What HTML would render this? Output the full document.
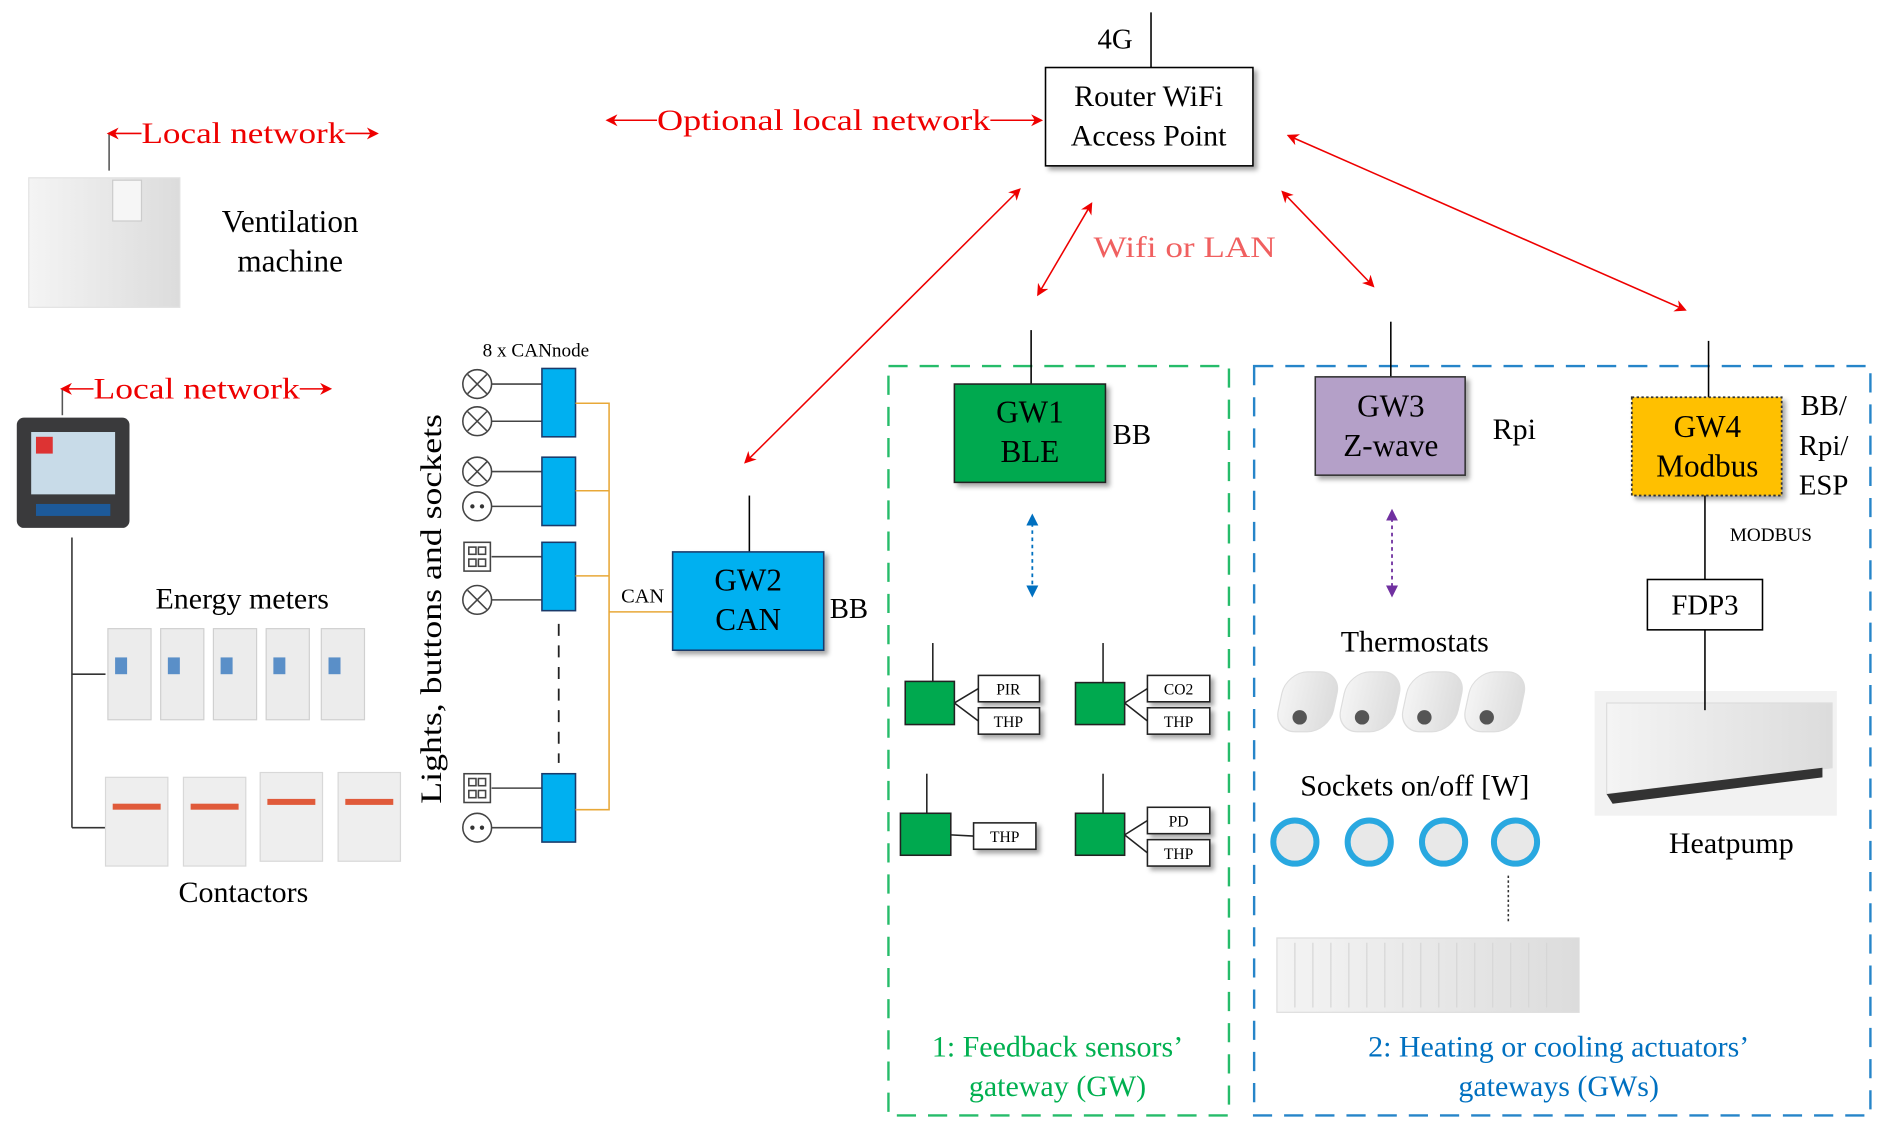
<!DOCTYPE html>
<html><head><meta charset="utf-8"><style>
html,body{margin:0;padding:0;background:#fff;}
svg{display:block;}
text{font-family:"Liberation Serif",serif;}
</style></head><body>
<svg width="1880" height="1123" viewBox="0 0 1568 936" xmlns="http://www.w3.org/2000/svg">
<defs>
<marker id="ar" markerWidth="10" markerHeight="10" refX="8" refY="5" orient="auto-start-reverse" markerUnits="userSpaceOnUse"><path d="M0,0 L10,5 L0,10 L3,5z" fill="#e00"/></marker>
<marker id="ab" markerWidth="10" markerHeight="10" refX="8" refY="5" orient="auto-start-reverse" markerUnits="userSpaceOnUse"><path d="M0,0 L10,5 L0,10z" fill="#0070c0"/></marker>
<marker id="ap" markerWidth="10" markerHeight="10" refX="8" refY="5" orient="auto-start-reverse" markerUnits="userSpaceOnUse"><path d="M0,0 L10,5 L0,10z" fill="#7030a0"/></marker>
<linearGradient id="wg" x1="0" x2="1"><stop offset="0" stop-color="#f4f4f4"/><stop offset="1" stop-color="#dcdcdc"/></linearGradient>
<filter id="sh"><feDropShadow dx="3" dy="3" stdDeviation="2" flood-opacity="0.35"/></filter>
</defs>

<!-- router -->
<line x1="960" y1="10" x2="960" y2="56" stroke="#000" stroke-width="1.3"/>
<text x="930" y="40" font-size="24" text-anchor="middle">4G</text>
<rect x="872" y="56" width="173" height="82" fill="#fff" stroke="#000" stroke-width="1.3" filter="url(#sh)"/>
<text x="958" y="88" font-size="25" text-anchor="middle">Router WiFi</text>
<text x="958" y="121" font-size="25" text-anchor="middle">Access Point</text>

<!-- optional local network -->
<line x1="507" y1="100" x2="548" y2="100" stroke="#e00" stroke-width="1.3" marker-start="url(#ar)"/>
<line x1="826" y1="100" x2="868" y2="100" stroke="#e00" stroke-width="1.3" marker-end="url(#ar)"/>
<text x="548" y="108" font-size="25" fill="#e00" textLength="278" lengthAdjust="spacingAndGlyphs">Optional local network</text>

<!-- red wifi arrows -->
<line x1="850" y1="158" x2="622" y2="385" stroke="#e00" stroke-width="1.3" marker-start="url(#ar)" marker-end="url(#ar)"/>
<line x1="910" y1="170" x2="866" y2="245" stroke="#e00" stroke-width="1.3" marker-start="url(#ar)" marker-end="url(#ar)"/>
<line x1="1070" y1="160" x2="1145" y2="238" stroke="#e00" stroke-width="1.3" marker-start="url(#ar)" marker-end="url(#ar)"/>
<line x1="1075" y1="113" x2="1405" y2="258" stroke="#e00" stroke-width="1.3" marker-start="url(#ar)" marker-end="url(#ar)"/>
<text x="912" y="214" font-size="25" fill="#f06060" textLength="152" lengthAdjust="spacingAndGlyphs">Wifi or LAN</text>

<!-- ventilation -->
<line x1="91" y1="142" x2="91" y2="111" stroke="#555" stroke-width="1.3"/>
<line x1="91" y1="111" x2="118" y2="111" stroke="#e00" stroke-width="1.3" marker-start="url(#ar)"/>
<line x1="288" y1="111" x2="314" y2="111" stroke="#e00" stroke-width="1.3" marker-end="url(#ar)"/>
<text x="118" y="119" font-size="25" fill="#e00" textLength="170" lengthAdjust="spacingAndGlyphs">Local network</text>
<rect x="24" y="148" width="126" height="108" fill="url(#wg)" stroke="#e2e2e2"/>
<rect x="94" y="150" width="24" height="34" fill="#f6f6f6" stroke="#ccc"/>
<text x="242" y="193" font-size="26" text-anchor="middle">Ventilation</text>
<text x="242" y="226" font-size="26" text-anchor="middle">machine</text>

<!-- controller -->
<line x1="52" y1="346" x2="52" y2="324" stroke="#555" stroke-width="1.3"/>
<line x1="52" y1="324" x2="78" y2="324" stroke="#e00" stroke-width="1.3" marker-start="url(#ar)"/>
<line x1="250" y1="324" x2="275" y2="324" stroke="#e00" stroke-width="1.3" marker-end="url(#ar)"/>
<text x="78" y="332" font-size="25" fill="#e00" textLength="172" lengthAdjust="spacingAndGlyphs">Local network</text>
<rect x="14" y="348" width="94" height="92" rx="6" fill="#3a3a3c"/>
<rect x="26" y="360" width="70" height="52" fill="#c8dbe8"/>
<rect x="30" y="364" width="14" height="14" fill="#d33"/>
<rect x="30" y="420" width="62" height="10" fill="#1d5a9a"/>

<line x1="60" y1="448" x2="60" y2="690" stroke="#333" stroke-width="1.3"/>
<line x1="60" y1="562" x2="88" y2="562" stroke="#333" stroke-width="1.3"/>
<line x1="60" y1="690" x2="88" y2="690" stroke="#333" stroke-width="1.3"/>
<text x="202" y="507" font-size="25" text-anchor="middle">Energy meters</text>
<g fill="#ececec" stroke="#d0d0d0">
<rect x="90" y="524" width="36" height="76"/><rect x="134" y="524" width="36" height="76"/><rect x="178" y="524" width="36" height="76"/><rect x="222" y="524" width="36" height="76"/><rect x="268" y="524" width="36" height="76"/>
</g>
<g fill="#5a8fc8"><rect x="96" y="548" width="10" height="14"/><rect x="140" y="548" width="10" height="14"/><rect x="184" y="548" width="10" height="14"/><rect x="228" y="548" width="10" height="14"/><rect x="274" y="548" width="10" height="14"/></g>
<g fill="#eeeeee" stroke="#d8d8d8">
<rect x="88" y="648" width="52" height="74"/><rect x="153" y="648" width="52" height="74"/><rect x="217" y="644" width="52" height="74"/><rect x="282" y="644" width="52" height="74"/>
</g>
<g fill="#e05a3a"><rect x="94" y="670" width="40" height="5"/><rect x="159" y="670" width="40" height="5"/><rect x="223" y="666" width="40" height="5"/><rect x="288" y="666" width="40" height="5"/></g>
<text x="203" y="752" font-size="25" text-anchor="middle">Contactors</text>

<!-- CAN nodes -->
<text x="368" y="670" font-size="25" textLength="325" lengthAdjust="spacingAndGlyphs" transform="rotate(-90 368 670)">Lights, buttons and sockets</text>
<text x="447" y="297" font-size="16" text-anchor="middle">8 x CANnode</text>
<g stroke="#444" stroke-width="1.3" fill="none">
<line x1="410" y1="320" x2="452" y2="320"/><line x1="410" y1="351" x2="452" y2="351"/>
<line x1="410" y1="393" x2="452" y2="393"/><line x1="410" y1="422" x2="452" y2="422"/>
<line x1="410" y1="464" x2="452" y2="464"/><line x1="410" y1="500" x2="452" y2="500"/>
<line x1="410" y1="657" x2="452" y2="657"/><line x1="410" y1="690" x2="452" y2="690"/>
<circle cx="398" cy="320" r="12"/><path d="M390,312 L406,328 M406,312 L390,328"/>
<circle cx="398" cy="351" r="12"/><path d="M390,343 L406,359 M406,343 L390,359"/>
<circle cx="398" cy="393" r="12"/><path d="M390,385 L406,401 M406,385 L390,401"/>
<circle cx="398" cy="422" r="12"/>
<circle cx="398" cy="500" r="12"/><path d="M390,492 L406,508 M406,492 L390,508"/>
<circle cx="398" cy="690" r="12"/>
<rect x="387" y="452" width="22" height="24"/><rect x="391" y="456" width="6" height="6"/><rect x="399" y="456" width="6" height="6"/><rect x="391" y="466" width="6" height="6"/><rect x="399" y="466" width="6" height="6"/>
<rect x="387" y="645" width="22" height="24"/><rect x="391" y="649" width="6" height="6"/><rect x="399" y="649" width="6" height="6"/><rect x="391" y="659" width="6" height="6"/><rect x="399" y="659" width="6" height="6"/>
</g>
<g fill="#333"><circle cx="394" cy="422" r="1.8"/><circle cx="402" cy="422" r="1.8"/><circle cx="394" cy="690" r="1.8"/><circle cx="402" cy="690" r="1.8"/></g>
<g fill="#00b0f0" stroke="#1a3a6a" stroke-width="1.3">
<rect x="452" y="307" width="28" height="57"/><rect x="452" y="381" width="28" height="57"/><rect x="452" y="452" width="28" height="57"/><rect x="452" y="645" width="28" height="57"/>
</g>
<line x1="466" y1="520" x2="466" y2="636" stroke="#222" stroke-width="1.5" stroke-dasharray="10,8"/>
<g stroke="#e8a838" stroke-width="1.3" fill="none">
<path d="M480,336 H508 V675 H480"/><path d="M480,409 H508"/><path d="M480,480 H508"/><path d="M508,510 H561"/>
</g>
<text x="536" y="502" font-size="17" text-anchor="middle">CAN</text>

<!-- GW2 -->
<line x1="625" y1="413" x2="625" y2="460" stroke="#000" stroke-width="1.3"/>
<rect x="561" y="460" width="126" height="82" fill="#00b0f0" stroke="#1a3a6a" stroke-width="1.3" filter="url(#sh)"/>
<text x="624" y="492" font-size="26" text-anchor="middle">GW2</text>
<text x="624" y="525" font-size="26" text-anchor="middle">CAN</text>
<text x="708" y="515" font-size="24" text-anchor="middle">BB</text>

<!-- dashed boxes -->
<rect x="741" y="305" width="284" height="625" fill="none" stroke="#00b050" stroke-width="2" stroke-dasharray="16,10" opacity="0.85"/>
<rect x="1046" y="305" width="514" height="625" fill="none" stroke="#0070c0" stroke-width="2" stroke-dasharray="16,10" opacity="0.85"/>

<!-- GW1 -->
<line x1="860" y1="275" x2="860" y2="320" stroke="#000" stroke-width="1.3"/>
<rect x="796" y="320" width="126" height="82" fill="#00a94f" stroke="#222" stroke-width="1.3" filter="url(#sh)"/>
<text x="859" y="352" font-size="26" text-anchor="middle">GW1</text>
<text x="859" y="385" font-size="26" text-anchor="middle">BLE</text>
<text x="944" y="370" font-size="24" text-anchor="middle">BB</text>
<line x1="861" y1="430" x2="861" y2="496" stroke="#0070c0" stroke-width="1.5" stroke-dasharray="3,3" marker-start="url(#ab)" marker-end="url(#ab)"/>

<!-- sensors -->
<g stroke="#222" stroke-width="1.3">
<line x1="778" y1="536" x2="778" y2="568"/><line x1="920" y1="536" x2="920" y2="569"/>
<line x1="773" y1="645" x2="773" y2="678"/><line x1="920" y1="645" x2="920" y2="678"/>
<path d="M796,586 L816,574 M796,586 L816,601 M938,586 L957,574 M938,586 L957,601 M793,696 L812,697 M938,696 L957,684 M938,696 L957,711" fill="none"/>
</g>
<g fill="#00a94f" stroke="#222" stroke-width="1.3">
<rect x="755" y="568" width="41" height="36"/><rect x="897" y="569" width="41" height="35"/><rect x="751" y="678" width="42" height="35"/><rect x="897" y="678" width="41" height="35"/>
</g>
<g fill="#fff" stroke="#222" stroke-width="1.3" filter="url(#sh)">
<rect x="816" y="563" width="51" height="22"/><rect x="816" y="590" width="51" height="22"/>
<rect x="957" y="563" width="52" height="22"/><rect x="957" y="590" width="52" height="22"/>
<rect x="812" y="686" width="52" height="22"/>
<rect x="957" y="673" width="52" height="22"/><rect x="957" y="700" width="52" height="22"/>
</g>
<g font-size="13" text-anchor="middle">
<text x="841" y="579">PIR</text><text x="841" y="606">THP</text>
<text x="983" y="579">CO2</text><text x="983" y="606">THP</text>
<text x="838" y="702">THP</text>
<text x="983" y="689">PD</text><text x="983" y="716">THP</text>
</g>
<text x="882" y="881" font-size="25" fill="#00b050" text-anchor="middle">1: Feedback sensors’</text>
<text x="882" y="914" font-size="25" fill="#00b050" text-anchor="middle">gateway (GW)</text>

<!-- GW3 -->
<line x1="1160" y1="268" x2="1160" y2="314" stroke="#000" stroke-width="1.3"/>
<rect x="1097" y="314" width="125" height="82" fill="#b4a0c8" stroke="#333" stroke-width="1.3" filter="url(#sh)"/>
<text x="1160" y="347" font-size="26" text-anchor="middle">GW3</text>
<text x="1160" y="380" font-size="26" text-anchor="middle">Z-wave</text>
<text x="1263" y="366" font-size="25" text-anchor="middle">Rpi</text>
<line x1="1161" y1="426" x2="1161" y2="496" stroke="#7030a0" stroke-width="1.5" stroke-dasharray="3,3" marker-start="url(#ap)" marker-end="url(#ap)"/>
<text x="1180" y="543" font-size="25" text-anchor="middle">Thermostats</text>
<g fill="url(#wg)" stroke="#ddd">
<rect x="1072" y="560" width="46" height="50" rx="18" transform="skewX(-12) translate(120 0)"/>
<rect x="1124" y="560" width="46" height="50" rx="18" transform="skewX(-12) translate(120 0)"/>
<rect x="1176" y="560" width="46" height="50" rx="18" transform="skewX(-12) translate(120 0)"/>
<rect x="1228" y="560" width="46" height="50" rx="18" transform="skewX(-12) translate(120 0)"/>
</g>
<g fill="#555"><circle cx="1084" cy="598" r="6"/><circle cx="1136" cy="598" r="6"/><circle cx="1188" cy="598" r="6"/><circle cx="1240" cy="598" r="6"/></g>
<text x="1180" y="663" font-size="25" text-anchor="middle">Sockets on/off [W]</text>
<g fill="#e8e8e8" stroke="#29a8e0" stroke-width="5">
<circle cx="1080" cy="702" r="18"/><circle cx="1142" cy="702" r="18"/><circle cx="1204" cy="702" r="18"/><circle cx="1264" cy="702" r="18"/>
</g>
<line x1="1258" y1="730" x2="1258" y2="768" stroke="#333" stroke-width="1.3" stroke-dasharray="2,2"/>
<rect x="1065" y="782" width="252" height="62" fill="url(#wg)" stroke="#ddd"/>
<g stroke="#d6d6d6"><path d="M1080,786 V840 M1095,786 V840 M1110,786 V840 M1125,786 V840 M1140,786 V840 M1155,786 V840 M1170,786 V840 M1185,786 V840 M1200,786 V840 M1215,786 V840 M1230,786 V840 M1245,786 V840 M1260,786 V840 M1275,786 V840 M1290,786 V840"/></g>
<text x="1300" y="881" font-size="25" fill="#0070c0" text-anchor="middle">2: Heating or cooling actuators’</text>
<text x="1300" y="914" font-size="25" fill="#0070c0" text-anchor="middle">gateways (GWs)</text>

<!-- GW4 -->
<line x1="1425" y1="284" x2="1425" y2="331" stroke="#000" stroke-width="1.3"/>
<rect x="1361" y="331" width="125" height="82" fill="#ffc000" stroke="#333" stroke-width="1.5" stroke-dasharray="2,2" filter="url(#sh)"/>
<text x="1424" y="364" font-size="26" text-anchor="middle">GW4</text>
<text x="1424" y="397" font-size="26" text-anchor="middle">Modbus</text>
<text x="1521" y="346" font-size="24" text-anchor="middle">BB/</text>
<text x="1521" y="379" font-size="24" text-anchor="middle">Rpi/</text>
<text x="1521" y="412" font-size="24" text-anchor="middle">ESP</text>
<line x1="1422" y1="413" x2="1422" y2="483" stroke="#000" stroke-width="1.3"/>
<text x="1477" y="451" font-size="16" text-anchor="middle">MODBUS</text>
<rect x="1374" y="483" width="96" height="42" fill="#fff" stroke="#000" stroke-width="1.3"/>
<text x="1422" y="512" font-size="24" text-anchor="middle">FDP3</text>
<rect x="1330" y="576" width="202" height="104" fill="#f2f2f2"/>
<path d="M1340,586 H1528 V640 L1340,662 Z" fill="url(#wg)" stroke="#ddd"/>
<path d="M1340,662 L1520,640 L1520,648 L1345,670Z" fill="#333"/>
<line x1="1422" y1="525" x2="1422" y2="592" stroke="#000" stroke-width="1.3"/>
<text x="1444" y="711" font-size="25" text-anchor="middle">Heatpump</text>
</svg>
</body></html>
